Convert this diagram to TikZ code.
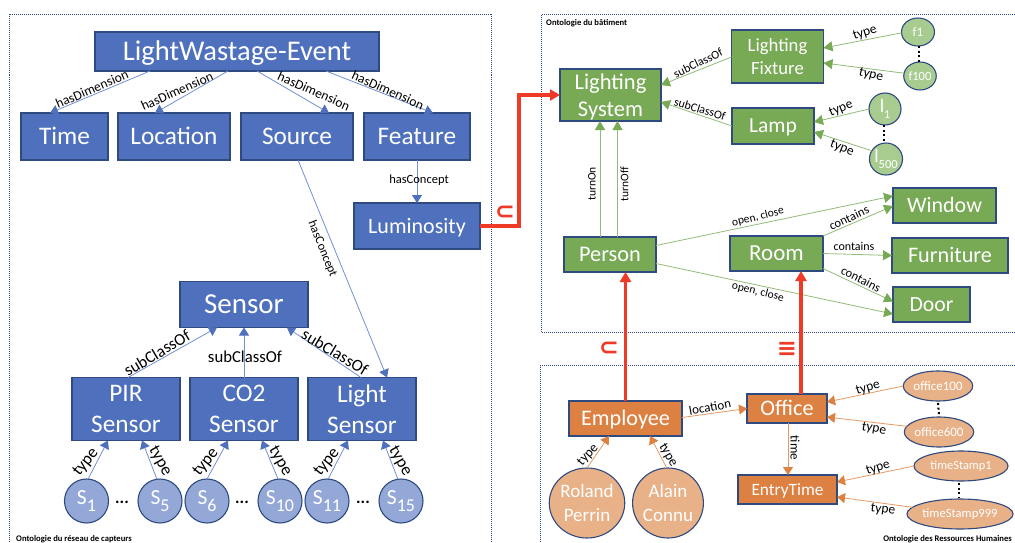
\documentclass[tikz,border=0pt]{standalone}
\usepackage{fontspec}
\setmainfont{Carlito}
\newfontfamily\symf{DejaVu Sans}
\usetikzlibrary{arrows.meta,shapes.geometric}
\definecolor{blu}{HTML}{4F70BD}
\definecolor{blul}{HTML}{94A8D8}
\definecolor{blue2}{HTML}{7191D6}
\definecolor{grn}{HTML}{78A955}
\definecolor{grnl}{HTML}{A8CC90}
\definecolor{grn2}{HTML}{93BB78}
\definecolor{org}{HTML}{DD8142}
\definecolor{orgl}{HTML}{E9B188}
\definecolor{org2}{HTML}{E59A63}
\definecolor{edgeb}{HTML}{2F4A80}
\definecolor{redl}{HTML}{EE3A26}
\newcommand\fs[2]{\fontsize{#1}{#2}\selectfont}
\newcommand\sbs[2]{\raisebox{-.3em}{\fs{#1}{#1}#2}}
\newcommand\one[1]{\raisebox{0pt}[.64em][0pt]{#1}}
\tikzset{
 box/.style={draw=edgeb,line width=1.1pt,inner sep=0pt,outer sep=0pt,text=white,align=center},
 bbox/.style={box,fill=blu},
 gbox/.style={box,fill=grn},
 obox/.style={box,fill=org},
 circ/.style={draw=edgeb,line width=1.1pt,inner sep=0pt,outer sep=0pt,text=white,align=center,ellipse},
 bcirc/.style={circ,fill=blul},
 gcirc/.style={circ,fill=grnl},
 ocirc/.style={circ,fill=orgl},
 barr/.style={draw=blue2,line width=.8pt,-{Triangle[width=10pt,length=8pt,color=blu]}},
 garr/.style={draw=grn2,line width=.8pt,-{Triangle[width=10pt,length=9pt,color=grn]}},
 oarr/.style={draw=org2,line width=.8pt,-{Triangle[width=10pt,length=8pt,color=org]}},
 redarr/.style={draw=redl,line width=3.2pt,-{Triangle[width=11pt,length=10pt]}},
 frame/.style={draw=edgeb,line width=.9pt,dash pattern=on 1pt off 1pt},
 lab/.style={text=black,inner sep=.6pt,font=\fs{#1}{#1}},
 lab/.default=12,
 vdots/.style={draw=black,line width=2pt,dash pattern=on 2pt off 2.6pt},
 title/.style={text=black,inner sep=0pt,font=\fs{8.6}{9}\bfseries},
 redsym/.style={text=redl,inner sep=0pt,font=\symf\fs{24}{24}\bfseries},
 dots3/.style={text=black,inner sep=0pt,font=\fs{17}{17}\bfseries}
}
\begin{document}
\begin{tikzpicture}[x=1pt,y=-1pt]
\path[use as bounding box,fill=white] (0,0) rectangle (1015,543);
\clip (0,0) rectangle (1015,543);
% frames
\draw[frame] (9.5,14.5) -- (491,14.5) (9.5,14.5) -- (9.5,543) (491,14.5) -- (491,543);
\draw[frame] (1015,14.5) -- (541,14.5) -- (541,332) -- (1015,332);
\draw[frame] (1015,365.5) -- (540,365.5) -- (540,543);
\node[title,anchor=west] (t1) at (16,539.5) {Ontologie du réseau de capteurs};
\node[title,anchor=west] (t2) at (546,23) {Ontologie du bâtiment};
\node[title,anchor=east] (t3) at (1012,539.5) {Ontologie des Ressources Humaines};
% blue nodes
\node[bbox,minimum width=284,minimum height=39,font=\fs{28.5}{30}] (lwe) at (237,51.5) {\one{LightWastage-Event}};
\node[bbox,minimum width=87,minimum height=47,font=\fs{25.3}{30}] (time) at (64.5,136.5) {\one{Time}};
\node[bbox,minimum width=112,minimum height=47,font=\fs{25.3}{30}] (loc) at (174,136.5) {\one{Location}};
\node[bbox,minimum width=112,minimum height=47,font=\fs{25.3}{30}] (src) at (297,136.5) {\one{Source}};
\node[bbox,minimum width=106,minimum height=47,font=\fs{25.3}{30}] (feat) at (417,136.5) {\one{Feature}};
\node[bbox,minimum width=126,minimum height=46,font=\fs{22}{26}] (lum) at (417,226) {\one{Luminosity}};
\node[bbox,minimum width=128,minimum height=46,font=\fs{29}{30}] (sensor) at (244,304.5) {\one{Sensor}};
\node[bbox,minimum width=108,minimum height=63,font=\fs{25.3}{31}] (pir) at (126,409) {PIR\\Sensor};
\node[bbox,minimum width=108,minimum height=63,font=\fs{25.3}{31}] (co2) at (244,409) {CO2\\Sensor};
\node[bbox,minimum width=108,minimum height=63,font=\fs{25.3}{31}] (light) at (362,409) {Light\\Sensor};
\foreach \n/\x/\t in {s1/86.5/1,s5/160/5,s6/207/6,s10/280/10,s11/327/11,s15/401/15}{
 \node[bcirc,minimum width=44,minimum height=44,font=\fs{21.5}{22}] (\n) at (\x,501) {S\sbs{18}{\t}};
}
\node[dots3] (d1) at (122,502) {...};
\node[dots3] (d2) at (242,502) {...};
\node[dots3] (d3) at (363,502) {...};
% blue edges
\draw[barr] ([xshift=-87pt]lwe.south) -- ([xshift=-14.5pt]time.north);
\draw[barr] ([xshift=-9pt]lwe.south) -- ([xshift=-19pt]loc.north);
\draw[barr] ([xshift=20pt]lwe.south) -- ([xshift=32pt]src.north);
\draw[barr] ([xshift=89pt]lwe.south) -- ([xshift=16pt]feat.north);
\draw[barr] (feat.south) -- (lum.north);
\draw[barr] ([xshift=1pt]src.south) -- ([xshift=25pt]light.north);
\draw[barr] ([xshift=2pt]pir.north) -- ([xshift=-27pt]sensor.south);
\draw[barr] (co2.north) -- (sensor.south);
\draw[barr] ([xshift=-1pt]light.north) -- ([xshift=43pt]sensor.south);
\draw[barr] (s1.86) -- ([xshift=-18pt]pir.south);
\draw[barr] (s6.90) -- ([xshift=-16pt]co2.south);
\draw[barr] (s11.87) -- ([xshift=-14pt]light.south);
\draw[barr] (s5.98) -- ([xshift=16pt]pir.south);
\draw[barr] (s10.95) -- ([xshift=18pt]co2.south);
\draw[barr] (s15.98) -- ([xshift=21pt]light.south);
\node[lab=13.5,rotate=23] (e1) at (92,89) {hasDimension};
\node[lab=13.5,rotate=24] (e2) at (177,91) {hasDimension};
\node[lab=13.5,rotate=-24] (e3) at (314,91) {hasDimension};
\node[lab=13.5,rotate=-24] (e4) at (388,90) {hasDimension};
\node[lab=12.5] (e5) at (419,180) {hasConcept};
\node[lab=12.5,rotate=-68] (e6) at (322.5,249) {hasConcept};
\node[lab=16.7,rotate=31] (e7) at (157,353) {subClassOf};
\node[lab=16.7] (e8) at (245,357) {subClassOf};
\node[lab=16.7,rotate=-31] (e9) at (335,352) {subClassOf};
\foreach \i/\x/\y/\r in {1/86/462/51,2/160/461/-60,3/206/462/51,4/280/461/-60,5/327/462/51,6/400/461/-60}{
 \node[lab=17,rotate=\r] (ty\i) at (\x,\y) {type};
}
% green nodes
\node[gbox,minimum width=101,minimum height=52,font=\fs{22.5}{27}] (ls) at (610.5,95) {\rule{0pt}{20pt}Lighting\\System};
\node[gbox,minimum width=92,minimum height=53,font=\fs{18.7}{23}] (lf) at (777.5,56.5) {Lighting\\Fixture};
\node[gbox,minimum width=82,minimum height=36,font=\fs{21.5}{27}] (lamp) at (773,126) {\one{Lamp}};
\node[gcirc,minimum width=33,minimum height=28,font=\fs{13}{13}] (f1) at (918,32) {f1};
\node[gcirc,minimum width=32,minimum height=28,font=\fs{12.6}{13}] (f100) at (920,76) {f100};
\node[gcirc,minimum width=32,minimum height=32,font=\fs{19}{19}] (l1) at (885,109) {l\sbs{12}{1}};
\node[gcirc,minimum width=32,minimum height=32,font=\fs{19}{19}] (l500) at (886,159) {l\sbs{12.5}{500}};
\node[gbox,minimum width=92,minimum height=35,font=\fs{22.3}{27}] (person) at (610,254.5) {\one{Person}};
\node[gbox,minimum width=93,minimum height=35,font=\fs{23}{27}] (room) at (776.5,253.5) {\one{Room}};
\node[gbox,minimum width=103,minimum height=35,font=\fs{22}{27}] (window) at (944.5,205.5) {\one{Window}};
\node[gbox,minimum width=116,minimum height=35,font=\fs{22.2}{27}] (furn) at (950,255.5) {\one{Furniture}};
\node[gbox,minimum width=77,minimum height=35,font=\fs{21.7}{27}] (door) at (931.5,304.5) {\one{Door}};
% green edges
\draw[garr] ([yshift=-.5pt]lf.west) -- ([yshift=10pt]ls.east);
\draw[garr] (lamp.west) -- ([yshift=-7pt]ls.east);
\draw[garr] (f1.183) -- ([yshift=8.5pt]lf.east);
\draw[garr] (f100.170) -- ([yshift=-6.5pt]lf.east);
\draw[garr] (l1.180) -- ([yshift=4pt]lamp.east);
\draw[garr] (l500.150) -- ([yshift=-6pt]lamp.east);
\draw[garr] ([xshift=-10pt]person.north) -- ([xshift=-10.5pt]ls.south);
\draw[garr] ([xshift=7.5pt]person.north) -- ([xshift=7pt]ls.south);
\draw[garr] ([yshift=9pt]person.east) -- ([yshift=9.5pt]window.west);
\draw[garr] ([yshift=-9pt]person.east) -- ([yshift=-9.5pt]door.west);
\draw[garr] (room.north east) -- ([yshift=-.5pt]window.west);
\draw[garr] (room.east) -- (furn.west);
\draw[garr] ([yshift=-15pt]room.east) -- ([yshift=3pt]door.west);
\node[lab=12,rotate=26] (g1) at (698,63) {subClassOf};
\node[lab=12,rotate=-17] (g2) at (700,109) {subClassOf};
\node[lab=13.5,rotate=18] (g3) at (865,33) {type};
\node[lab=13.5,rotate=-14] (g4) at (871,75) {type};
\node[lab=13.5,rotate=22] (g5) at (841,109) {type};
\node[lab=13.5,rotate=-22] (g6) at (842,148) {type};
\node[lab=11.5,rotate=90] (g7) at (592,184) {turnOn};
\node[lab=11.5,rotate=90] (g8) at (624.5,184) {turnOff};
\node[lab=11.5,rotate=14] (g9) at (758,217) {open, close};
\node[lab=11.5,rotate=-14] (g10) at (758,292) {open, close};
\node[lab=12.5,rotate=25] (g11) at (849,218) {contains};
\node[lab=12] (g12) at (854,246) {contains};
\node[lab=12.5,rotate=-27] (g13) at (861,279) {contains};
% orange nodes
\node[obox,minimum width=113,minimum height=35,font=\fs{22.2}{27}] (emp) at (625.5,418.5) {\one{Employee}};
\node[obox,minimum width=80,minimum height=29,font=\fs{22.2}{27}] (off) at (787,408.5) {\one{Office}};
\node[obox,minimum width=99,minimum height=29,font=\fs{17.3}{22}] (entry) at (787.5,489.5) {\one{EntryTime}};
\node[ocirc,minimum width=70,minimum height=70,font=\fs{19}{24}] (rol) at (587,503) {Roland\\Perrin};
\node[ocirc,minimum width=70,minimum height=70,font=\fs{19}{24}] (ala) at (668,503) {Alain\\Connu};
\node[ocirc,minimum width=68,minimum height=30,font=\fs{13}{13}] (o100) at (938,386) {office100};
\node[ocirc,minimum width=68,minimum height=30,font=\fs{13}{13}] (o600) at (939,432) {office600};
\node[ocirc,minimum width=94,minimum height=30,font=\fs{12.4}{13}] (ts1) at (961,466) {timeStamp1};
\node[ocirc,minimum width=94,minimum height=30,font=\fs{12.6}{13}] (ts9) at (960,514) {timeStamp999};
% orange edges
\draw[oarr] ([yshift=1pt]emp.east) -- (off.west);
\draw[oarr] ([xshift=1pt]off.south) -- ([xshift=.5pt]entry.north);
\draw[oarr] (o100.180) -- ([yshift=6.5pt]off.east);
\draw[oarr] (o600.170) -- ([yshift=-8.5pt]off.east);
\draw[oarr] (ts1.180) -- ([yshift=7.5pt]entry.east);
\draw[oarr] (ts9.172) -- ([yshift=-7.5pt]entry.east);
\draw[oarr] (rol.90) -- ([xshift=-16.5pt]emp.south);
\draw[oarr] (ala.92) -- ([xshift=24.5pt]emp.south);
\node[lab=13,rotate=10] (o1) at (710,407) {location};
\node[lab=13,rotate=-90] (o2) at (795,448) {time};
\node[lab=13.5,rotate=16] (o3) at (868,388) {type};
\node[lab=13.5,rotate=-10] (o4) at (874,429) {type};
\node[lab=13.5,rotate=17] (o5) at (878,468) {type};
\node[lab=13.5,rotate=-7] (o6) at (883,510) {type};
\node[lab=13.5,rotate=48] (o7) at (588,455) {type};
\node[lab=13.5,rotate=-60] (o8) at (668,455) {type};
% dots between instances
\draw[vdots] ([xshift=.5pt]f1.south) -- ([xshift=-1.5pt]f100.north);
\draw[vdots] ([xshift=-1pt]l1.south) -- ([xshift=-2pt]l500.north);
\draw[vdots] ([yshift=-2pt]o100.south) -- ([yshift=2pt]o600.north);
\draw[vdots] ([xshift=-2pt,yshift=-2pt]ts1.south) -- ([xshift=-1pt,yshift=2pt]ts9.north);
% red
\draw[redarr] (lum.east) -- (519,226) -- (519,95) -- (ls.west);
\draw[redarr] (emp.north) -- ([xshift=15.5pt]person.south);
\draw[redarr] ([xshift=14pt]off.north) -- ([xshift=24.5pt]room.south);
\node[redsym] (r1) at (505,213) {⊂};
\node[redsym] (r2) at (609,349) {⊂};
\node[redsym] (r3) at (787,349) {≡};
\end{tikzpicture}
\end{document}
